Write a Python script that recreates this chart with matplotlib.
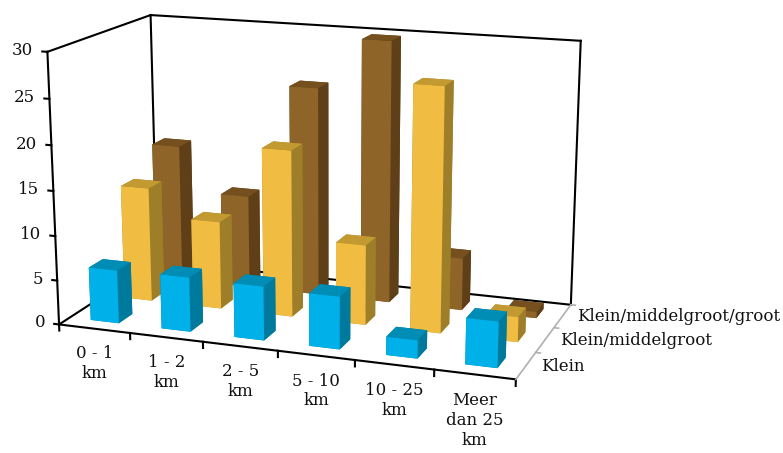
import numpy as np
import matplotlib
matplotlib.use("Agg")
import matplotlib.pyplot as plt
from mpl_toolkits.mplot3d import proj3d
from mpl_toolkits.mplot3d.art3d import Line3DCollection

categories = ["0 - 1\nkm", "1 - 2\nkm", "2 - 5\nkm", "5 - 10\nkm", "10 - 25\nkm", "Meer\ndan 25\nkm"]
series_names = ["Klein", "Klein/middelgroot", "Klein/middelgroot/groot"]
klein = [6.0, 6.1, 6.0, 5.8, 2.0, 5.0]
klein_middelgroot = [13.1, 10.0, 18.8, 9.0, 27.0, 2.8]
klein_middelgroot_groot = [16.0, 10.8, 24.0, 29.8, 6.0, 0.7]
z_ticks = [0, 5, 10, 15, 20, 25, 30]

W, H = 783, 453
# camera calibration: box corners (x, y, z) -> reference pixels
corners_3d = [(0,0,0),(6,0,0),(6,3,0),(0,3,0),(0,0,30),(0,3,30),(6,3,30)]
corners_px = [(59.3,324),(515.7,380),(571,304),(157,261.5),(47.3,51.7),(150.7,15),(580.7,41)]

palette = [
    dict(front="#00B0E8", top="#008DB5", side="#007A9C"),
    dict(front="#F0BC42", top="#C39A32", side="#9E7E28"),
    dict(front="#8F6428", top="#75501E", side="#5F3F18"),
]
FONT = "DejaVu Serif"
FS = 12
TXT = "#111111"

fig = plt.figure(figsize=(W/100, H/100), dpi=100)
fig.patch.set_facecolor("white")
side = W/H
ax = fig.add_axes([0, -(side-1)/2, 1, side], projection="3d", computed_zorder=False)
ax.set_axis_off()
ax.patch.set_visible(False)
ax.apply_aspect()

def calibrate():
    A = []
    for (x, y, z), (u, v) in zip(corners_3d, corners_px):
        v = H - v
        X = [x, y, z/10, 1]
        A.append(X + [0]*4 + [-u*c for c in X])
        A.append([0]*4 + X + [-v*c for c in X])
    P = np.linalg.svd(np.array(A, float))[2][-1].reshape(3, 4)
    P[:, 2] /= 10
    c = np.array([3, 1.5, 15, 1])
    P /= P[2] @ c
    inv = ax.transData.inverted()
    o, ex, ey = inv.transform([(0, 0), (1, 0), (0, 1)])
    T = np.array([[ex[0]-o[0], ey[0]-o[0], o[0]],
                  [ex[1]-o[1], ey[1]-o[1], o[1]],
                  [0, 0, 1]])
    P2 = T @ P
    w = P2[2]
    return np.array([P2[0], P2[1], w - np.array([0, 0, 0, 0.5]), w])

M = calibrate()
ax.get_proj = lambda: M

def label(x, y, z, s, **kw):
    xp, yp, _ = proj3d.proj_transform(x, y, z, M)
    fx, fy = fig.transFigure.inverted().transform(ax.transData.transform((xp, yp)))
    fig.text(fx, fy, s, family=FONT, fontsize=FS, color=TXT, **kw)

def lines(segs, color, lw=1.5):
    ax.add_collection3d(Line3DCollection(segs, colors=color, linewidths=lw, zorder=1,
                                         capstyle="projecting"))

black = [
    [(0,0,0),(6,0,0)], [(0,0,0),(0,3,0)], [(0,3,0),(6,3,0)],
    [(0,0,0),(0,0,30)], [(0,3,0),(0,3,30)], [(6,3,0),(6,3,30)],
    [(0,0,30),(0,3,30)], [(0,3,30),(6,3,30)],
]
black += [[(0,0,z),(-0.07,0,z)] for z in z_ticks]
black += [[(i,0,0),(i,0,-0.7)] for i in range(7)]
lines(black, "black")
lines([[(6,0,0),(6,3,0)]] + [[(6,j,0),(6.06,j,0)] for j in (1,2,3)], "#b0b0b0", lw=1.2)

for z in z_ticks:
    label(-0.2, 0, z, str(z), ha="right", va="center")
for i, lab in enumerate(categories):
    label(i+0.5, 0, -1.9, lab, ha="center", va="top", linespacing=1.22)
for j, lab in enumerate(series_names):
    label(6.19, j+0.5, 0.1, lab, ha="left", va="center")

# bars, back to front; bar3d face order: bottom, top, -y, +y, -x, +x
all_series = [klein, klein_middelgroot, klein_middelgroot_groot]
zo = 10
for j in (2, 1, 0):
    for i in range(6):
        p = palette[j]
        cols = [p["top"], p["top"], p["front"], p["side"], p["side"], p["side"]]
        ax.bar3d(i+0.3, j+0.3, 0, 0.4, 0.4, all_series[j][i], color=cols, shade=False,
                 zorder=zo, linewidth=0)
        zo += 1
ax.set_xlim(0, 6); ax.set_ylim(0, 3); ax.set_zlim(0, 30)
fig.savefig("out.png", dpi=100)
